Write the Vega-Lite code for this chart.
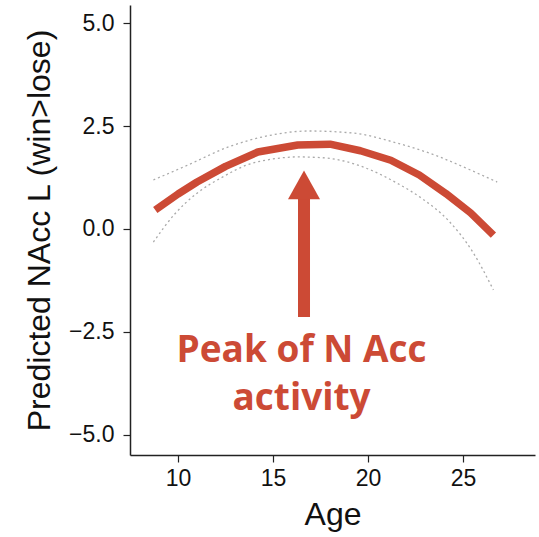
{
  "$schema": "https://vega.github.io/schema/vega-lite/v6.json",
  "autosize": {"type": "none"},
  "width": 405,
  "height": 450,
  "padding": {"left": 130, "top": 5, "right": 4, "bottom": 82},
  "background": "white",
  "config": {
    "view": {"stroke": null},
    "axis": {
      "grid": false,
      "domainColor": "#222",
      "domainWidth": 1.5,
      "tickColor": "#222",
      "tickWidth": 1.2,
      "tickSize": 7,
      "labelFont": "Liberation Sans",
      "labelFontSize": 23,
      "labelColor": "#111",
      "titleFont": "Liberation Sans",
      "titleFontSize": 32,
      "titleFontWeight": "normal",
      "titleColor": "#111"
    }
  },
  "datasets": {
    "fit": [
      {"age": 8.8, "y": 0.46},
      {"age": 10.0, "y": 0.85},
      {"age": 11.0, "y": 1.14},
      {"age": 12.5, "y": 1.52},
      {"age": 14.2, "y": 1.87},
      {"age": 16.3, "y": 2.04},
      {"age": 18.0, "y": 2.06},
      {"age": 19.6, "y": 1.9},
      {"age": 21.2, "y": 1.67},
      {"age": 22.7, "y": 1.31},
      {"age": 24.1, "y": 0.86},
      {"age": 25.4, "y": 0.39},
      {"age": 26.6, "y": -0.15}
    ],
    "upper": [
      {"age": 8.7, "y": 1.19},
      {"age": 10.5, "y": 1.55},
      {"age": 12.7, "y": 2.0},
      {"age": 14.8, "y": 2.27},
      {"age": 16.9, "y": 2.38},
      {"age": 19.2, "y": 2.33},
      {"age": 21.5, "y": 2.09},
      {"age": 23.6, "y": 1.78},
      {"age": 25.3, "y": 1.45},
      {"age": 26.8, "y": 1.14}
    ],
    "lower": [
      {"age": 8.7, "y": -0.32},
      {"age": 9.8, "y": 0.35},
      {"age": 11.0, "y": 0.87},
      {"age": 12.3, "y": 1.25},
      {"age": 13.6, "y": 1.55},
      {"age": 15.0, "y": 1.7},
      {"age": 16.3, "y": 1.75},
      {"age": 17.6, "y": 1.73},
      {"age": 18.9, "y": 1.63},
      {"age": 20.2, "y": 1.42},
      {"age": 21.5, "y": 1.12},
      {"age": 22.9, "y": 0.72},
      {"age": 24.2, "y": 0.22},
      {"age": 25.5, "y": -0.55},
      {"age": 26.6, "y": -1.48}
    ],
    "arrow": [{"age": 16.63, "y0": -2.14, "y1": 0.75, "tip": 1.07}],
    "label": [{"age": 16.5, "y": -3.23, "text": ["Peak of N Acc", "activity"]}]
  },
  "layer": [
    {
      "data": {"name": "upper"},
      "mark": {"type": "line", "interpolate": "monotone", "color": "#aaaaaa", "strokeWidth": 1.3, "strokeDash": [2, 3]},
      "encoding": {
        "x": {"field": "age", "type": "quantitative", "scale": {"domain": [7.47, 28.79], "nice": false, "zero": false}, "axis": {"values": [10, 15, 20, 25], "title": "Age", "titlePadding": 9, "labelPadding": 5}},
        "y": {"field": "y", "type": "quantitative", "scale": {"domain": [-5.49, 5.44], "nice": false, "zero": false}, "axis": {"values": [-5, -2.5, 0, 2.5, 5], "format": ".1f", "title": "Predicted NAcc L  (win>lose)", "titlePadding": 12, "labelPadding": 9}}
      }
    },
    {
      "data": {"name": "lower"},
      "mark": {"type": "line", "interpolate": "monotone", "color": "#aaaaaa", "strokeWidth": 1.3, "strokeDash": [2, 3]},
      "encoding": {
        "x": {"field": "age", "type": "quantitative"},
        "y": {"field": "y", "type": "quantitative"}
      }
    },
    {
      "data": {"name": "fit"},
      "mark": {"type": "line", "color": "#cc4a35", "strokeWidth": 7.5, "strokeCap": "butt", "strokeJoin": "round"},
      "encoding": {
        "x": {"field": "age", "type": "quantitative"},
        "y": {"field": "y", "type": "quantitative"}
      }
    },
    {
      "data": {"name": "arrow"},
      "mark": {"type": "rule", "color": "#cc4a35", "strokeWidth": 12},
      "encoding": {
        "x": {"field": "age", "type": "quantitative"},
        "y": {"field": "y0", "type": "quantitative"},
        "y2": {"field": "y1"}
      }
    },
    {
      "data": {"name": "arrow"},
      "mark": {"type": "point", "shape": "M-1,0.9L0,-0.9L1,0.9Z", "filled": true, "color": "#cc4a35", "opacity": 1, "size": 1024},
      "encoding": {
        "x": {"field": "age", "type": "quantitative"},
        "y": {"field": "tip", "type": "quantitative"}
      }
    },
    {
      "data": {"name": "label"},
      "mark": {"type": "text", "color": "#cc4a35", "font": "Open Sans", "fontWeight": "bold", "fontSize": 37, "lineHeight": 48, "align": "center", "baseline": "alphabetic"},
      "encoding": {
        "x": {"field": "age", "type": "quantitative"},
        "y": {"field": "y", "type": "quantitative"},
        "text": {"field": "text"}
      }
    }
  ]
}
